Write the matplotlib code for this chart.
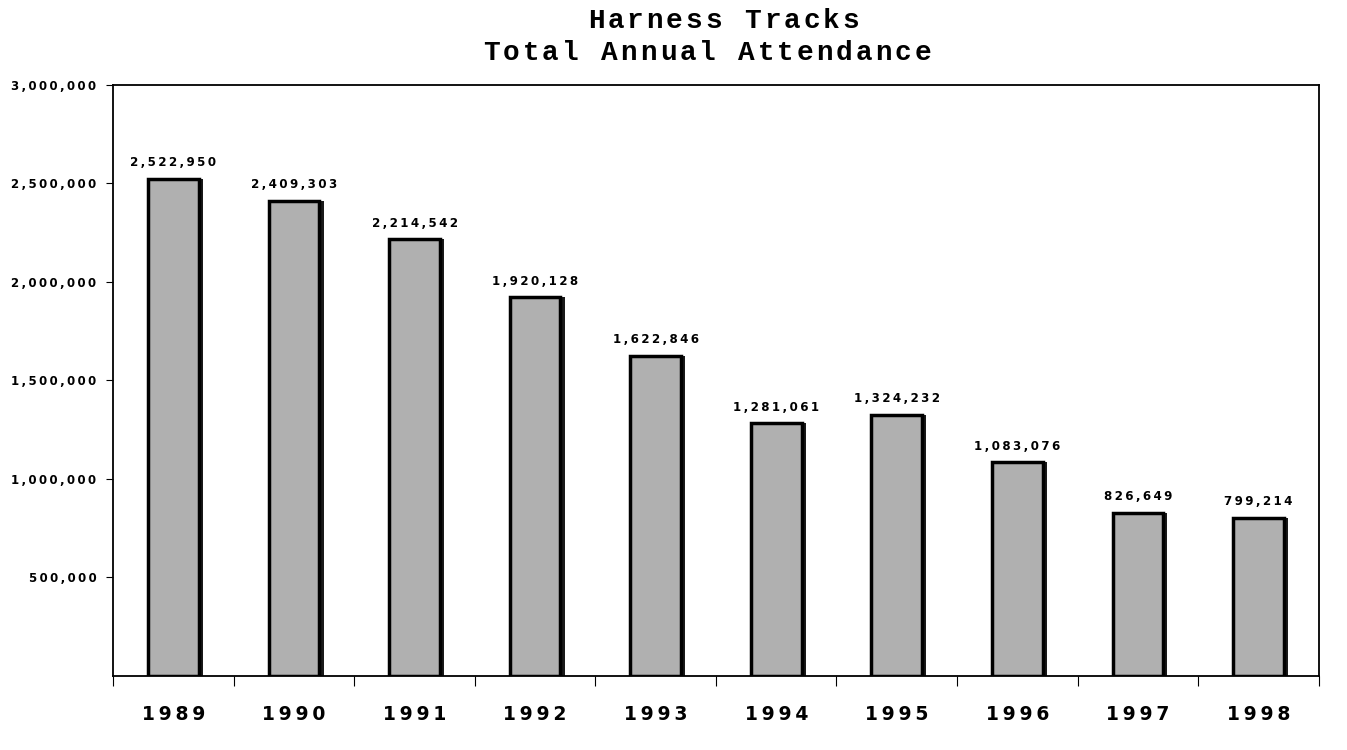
import matplotlib.pyplot as plt
import numpy as np
from matplotlib.ticker import FuncFormatter

years = ['1989', '1990', '1991', '1992', '1993',
         '1994', '1995', '1996', '1997', '1998']
attendance = [2522950, 2409303, 2214542, 1920128, 1622846,
              1281061, 1324232, 1083076, 826649, 799214]
yticks = [500000, 1000000, 1500000, 2000000, 2500000, 3000000]
title_lines = ['Harness Tracks', 'Total Annual Attendance']

SP = '\u2009'  # thin space, to spread the heavy digits like the scan


def spaced(s):
    return SP.join(s)


fig = plt.figure(figsize=(13.47, 7.5), dpi=100)
ax = fig.add_axes([0.084, 0.099, 0.895, 0.788])

x = np.arange(len(years))
# dark shadow on the right side, then the grey bar on top
ax.bar(x + 0.035, attendance, width=0.42, color='#1a1a1a', zorder=2)
ax.bar(x, attendance, width=0.42, color='#b0b0b0', edgecolor='black',
       linewidth=2.5, zorder=3)

for xi, v in zip(x, attendance):
    ax.text(xi, v + 50000, spaced('{:,}'.format(v)), ha='center',
            va='bottom', fontsize=8.6, fontweight='bold',
            family='DejaVu Sans')

ax.set_xlim(-0.5, len(years) - 0.5)
ax.set_ylim(0, 3000000)
ax.set_yticks(yticks)
ax.yaxis.set_major_formatter(
    FuncFormatter(lambda v, p: spaced('{:,.0f}'.format(v))))
for lab in ax.get_yticklabels():
    lab.set_fontweight('bold')
    lab.set_fontsize(8.5)
    lab.set_family('DejaVu Sans')
ax.tick_params(axis='y', direction='out', length=5, pad=7)

# tick marks between the categories, labels centred under bars
ax.set_xticks(np.arange(len(years) + 1) - 0.5)
ax.set_xticklabels([])
ax.set_xticks(x, minor=True)
ax.set_xticklabels([SP.join(y) for y in years], minor=True,
                   fontsize=13.5, fontweight='bold', family='DejaVu Sans')
ax.tick_params(axis='x', which='major', direction='out', length=7)
ax.tick_params(axis='x', which='minor', length=0, pad=21)

for s in ax.spines.values():
    s.set_linewidth(1.3)

# Courier-style title with wide letter pitch, one glyph at a time
pitch = 19.6 / 1347.0
for line, xc, yc in zip(title_lines, [0.537, 0.525], [0.972, 0.93]):
    n = len(line)
    x0 = xc - (n - 1) * pitch / 2.0
    for i, ch in enumerate(line):
        fig.text(x0 + i * pitch, yc, ch, ha='center', va='center',
                 fontsize=20, fontweight='bold', family='Liberation Mono')

fig.savefig('out.png', dpi=100)
